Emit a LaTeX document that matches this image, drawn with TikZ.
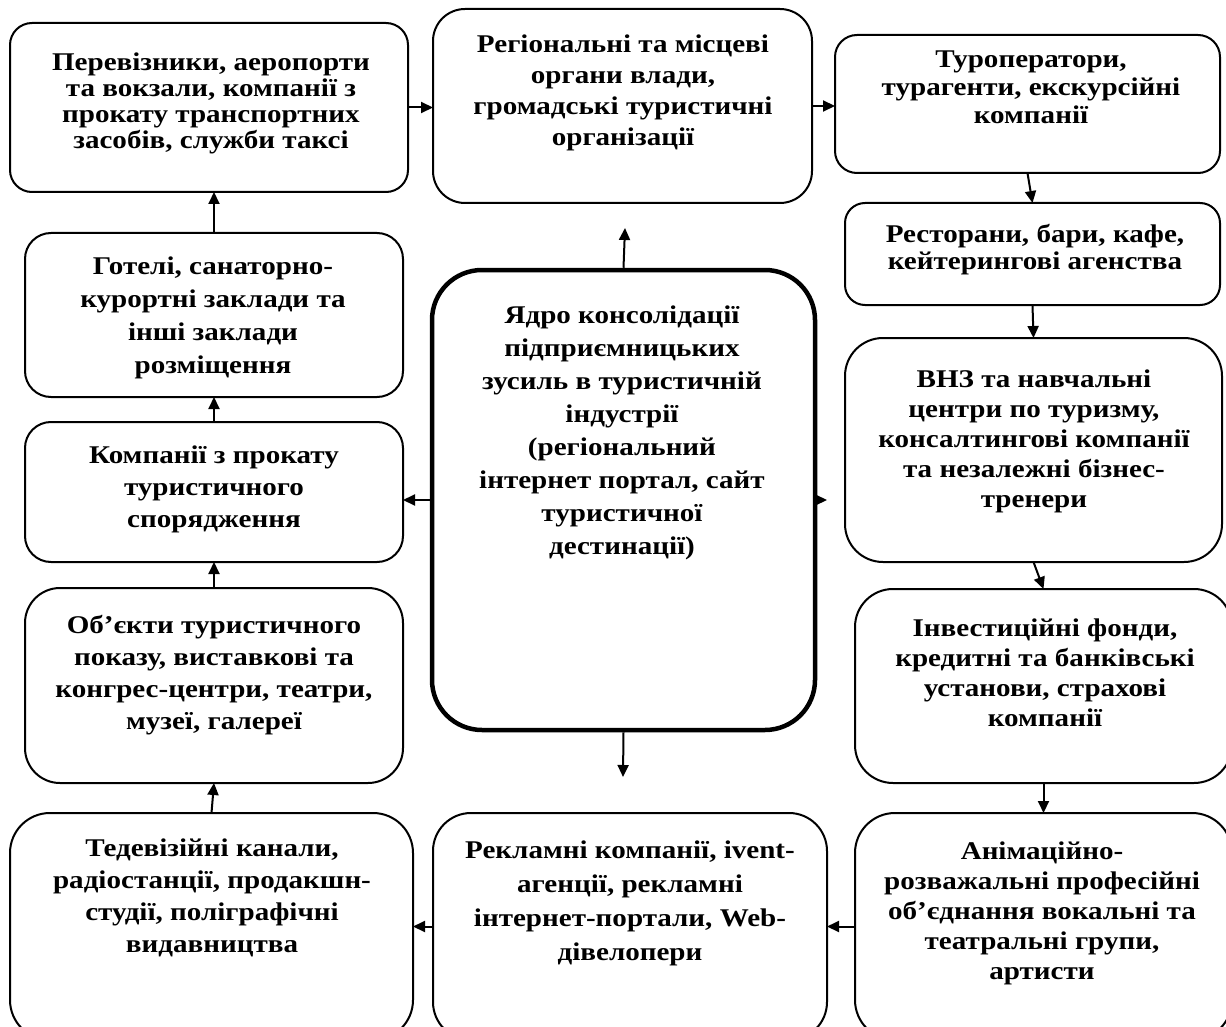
\documentclass[tikz,border=0pt]{standalone}
\usepackage{fontspec}
\setmainfont{Liberation Serif}[FakeStretch=1.14]
\usetikzlibrary{arrows.meta}

% rounded frame spanning (x1,y1)-(x2,y2) with corner radius r
\newcommand\mkbox[6]{%
  \node[box, rounded corners=#6pt,
        minimum width={(#4-#2)*1pt}, minimum height={(#5-#3)*1pt}]
        (#1) at ({(#2+#4)/2},{(#3+#5)/2}) {};}

\begin{document}
\begin{tikzpicture}[x=1pt,y=-1pt,
  box/.style={draw, line width=2pt, inner sep=0pt, outer sep=0pt},
  txt/.style={align=center, inner sep=0pt, font=\bfseries\fontsize{25.5}{#1}\selectfont},
  arr/.style={line width=2pt, -{Triangle[length=12pt,width=11pt]}}]

\useasboundingbox (0,0) rectangle (1226,1027);
\clip (0,0) rectangle (1226,1027);

% left column
\mkbox{carr}{10}{23}{408}{192}{22}
\mkbox{hotel}{25}{233}{403}{397}{26}
\mkbox{rent}{25}{422}{403}{562}{26}
\mkbox{show}{25}{588}{403}{783}{35}
\mkbox{media}{10}{813}{413}{1040}{40}

% middle column
\mkbox{gov}{433}{9}{812}{203}{32}
\node[draw, line width=4.5pt, rounded corners=50pt, inner sep=0pt,
      minimum width=383pt, minimum height=460pt] (core) at (623.5,500) {};
\mkbox{adv}{433}{813}{827}{1040}{38}

% right column
\mkbox{tour}{835}{35}{1220}{173}{22}
\mkbox{food}{845}{203}{1220}{305}{20}
\mkbox{edu}{845}{338}{1222}{562}{38}
\mkbox{fin}{855}{589}{1232}{783}{38}
\mkbox{anim}{855}{813}{1232}{1040}{40}

% texts
\node[txt=26] at (211,103) {Перевізники, аеропорти\\та вокзали, компанії з\\прокату транспортних\\засобів, служби таксі};
\node[txt=33] at (213,318) {Готелі, санаторно-\\курортні заклади та\\інші заклади\\розміщення};
\node[txt=32] at (214,489) {Компанії з прокату\\туристичного\\спорядження};
\node[txt=32] at (214,675) {Об’єкти туристичного\\показу, виставкові та\\конгрес-центри, театри,\\музеї, галереї};
\node[txt=32] at (212,898) {Тедевізійні канали,\\радіостанції, продакшн-\\студії, поліграфічні\\видавництва};
\node[txt=31] at (623,93) {Регіональні та місцеві\\органи влади,\\громадські туристичні\\організації};
\node[txt=33] at (622,433) {Ядро консолідації\\підприємницьких\\зусиль в туристичній\\індустрії\\(регіональний\\інтернет портал, сайт\\туристичної\\дестинації)};
\node[txt=34] at (630,903) {Рекламні компанії, ivent-\\агенції, рекламні\\інтернет-портали, Web-\\дівелопери};
\node[txt=28] at (1031,87) {Туроператори,\\турагенти, екскурсійні\\компанії};
\node[txt=27] at (1035,250) {Ресторани, бари, кафе,\\кейтерингові агенства};
\node[txt=30] at (1034,441) {ВНЗ та навчальні\\центри по туризму,\\консалтингові компанії\\та незалежні бізнес-\\тренери};
\node[txt=30] at (1045,673) {Інвестиційні фонди,\\кредитні та банківські\\установи, страхові\\компанії};
\node[txt=30] at (1042,913) {Анімаційно-\\розважальні професійні\\об’єднання вокальні та\\театральні групи,\\артисти};

% chain of links round the core
\draw[arr] (carr.east) -- (carr.east -| gov.west);
\draw[arr] (gov.east) -- (gov.east -| tour.west);
\draw[arr] (tour.south) -- (food.north);
\draw[arr] (food.south) -- (edu.north);
\draw[arr] (edu.south) -- (fin.north);
\draw[arr] (fin.south) -- (anim.north);
\draw[arr] (anim.west) -- (anim.west -| adv.east);
\draw[arr] (adv.west) -- (adv.west -| media.east);
\draw[arr] (media.north) -- (show.south);
\draw[arr] (show.north) -- (rent.south);
\draw[arr] (rent.north) -- (hotel.south);
\draw[arr] (hotel.north) -- (hotel.north |- carr.south);

% links leaving the core
\coordinate (upTip) at (625,228);
\coordinate (downTip) at (623,777);
\coordinate (rightTip) at (827,500);
\draw[arr] (core.north) -- (upTip);
\draw[arr] (core.south) -- (downTip);
\draw[arr] (core.west) -- (core.west -| rent.east);
\draw[arr] (core.east) -- (rightTip);
\end{tikzpicture}
\end{document}
